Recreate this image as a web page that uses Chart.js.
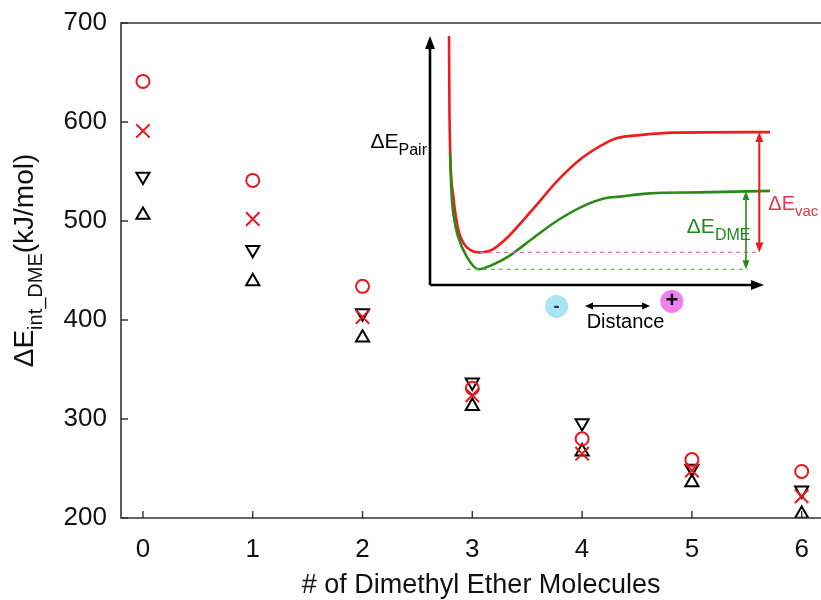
<!DOCTYPE html>
<html>
<head>
<meta charset="utf-8">
<script src="https://cdn.jsdelivr.net/npm/chart.js@4/dist/chart.umd.min.js"></script>
<style>
  html, body { margin: 0; padding: 0; overflow: hidden; background: #fff; }
  #wrap { position: relative; width: 821px; height: 600px; }
  #wrap canvas { position: absolute; left: 0; top: 0; }
  #inset { pointer-events: none; }
</style>
</head>
<body>
<div id="wrap">
  <canvas id="main" width="821" height="600"></canvas>
  <canvas id="inset" width="821" height="600"></canvas>
</div>
<script>
// Interaction energy vs number of dimethyl ether molecules (kJ/mol)
const etherCounts = [0, 1, 2, 3, 4, 5, 6];
const energyCircle = [641, 541, 434, 331, 280, 259, 247];
const energyCross  = [591, 502, 403, 324, 265, 248, 222];
const energyDown   = [545, 471, 407, 337, 296, 250, 228];
const energyUp     = [506, 439, 382, 313, 267, 236, 204];
const yTickValues  = [200, 300, 400, 500, 600, 700];

// Schematic ion-pair energy curves (arbitrary units)
const distVac   = [0.57, 0.58, 0.60, 0.70, 0.85, 1.02, 1.20, 1.45, 1.85, 2.34, 3.14, 3.84, 4.54, 5.24, 5.60, 6.29, 7.28, 10.18];
const energyVac = [10.0, 7.43, 5.55, 3.55, 2.21, 1.65, 1.41, 1.31, 1.41, 1.94, 3.14, 4.22, 5.09, 5.69, 5.90, 6.02, 6.12, 6.14];
const distDme   = [0.60, 0.65, 0.73, 0.84, 1.10, 1.45, 1.85, 2.34, 3.14, 3.84, 4.54, 5.24, 5.69, 6.59, 8.08, 10.18];
const energyDme = [5.30, 3.55, 2.61, 1.94, 1.14, 0.63, 0.80, 1.14, 1.94, 2.61, 3.14, 3.48, 3.55, 3.68, 3.72, 3.78];
const dashSpanVac = [1.50, 9.82];
const dashSpanDme = [1.10, 9.52];
const arrowXVac = 9.86;
const arrowXDme = 9.46;

const FONT = "'Liberation Sans', Arial, Helvetica, sans-serif";
const RED = '#e8191e';
const INK = '#111111';

function toPoints(xs, ys) { return xs.map((x, i) => ({ x: x, y: ys[i] })); }

function markerSet(values, style, radius, color, rotation) {
  return {
    data: toPoints(etherCounts, values),
    showLine: false,
    pointStyle: style,
    pointRadius: radius,
    pointHoverRadius: radius,
    pointRotation: rotation || 0,
    pointBorderColor: color,
    pointBackgroundColor: 'rgba(0,0,0,0)',
    pointBorderWidth: 2,
    pointHoverBorderWidth: 2
  };
}

function noScalePadding(s) {
  s.paddingTop = 0; s.paddingBottom = 0; s.paddingLeft = 0; s.paddingRight = 0;
}

// open frame (left, top, bottom) with inward tick marks
const framePlugin = {
  id: 'frame',
  afterDatasetsDraw(chart) {
    const { ctx, chartArea: a, scales: { x, y } } = chart;
    ctx.save();
    ctx.strokeStyle = '#333';
    ctx.lineWidth = 1.6;
    ctx.beginPath();
    ctx.moveTo(a.right + 2, a.top); ctx.lineTo(a.left, a.top);
    ctx.lineTo(a.left, a.bottom); ctx.lineTo(a.right + 2, a.bottom);
    ctx.stroke();
    ctx.lineWidth = 1.4;
    ctx.beginPath();
    etherCounts.forEach(v => {
      const px = x.getPixelForValue(v);
      ctx.moveTo(px, a.bottom); ctx.lineTo(px, a.bottom - 7);
    });
    yTickValues.forEach(v => {
      const py = y.getPixelForValue(v);
      ctx.moveTo(a.left, py); ctx.lineTo(a.left + 7, py);
    });
    ctx.stroke();
    ctx.restore();
  }
};

// axis titles (y title carries a subscript)
const titlesPlugin = {
  id: 'axisTitles',
  afterDraw(chart) {
    const { ctx, chartArea: a, scales: { x } } = chart;
    ctx.save();
    ctx.fillStyle = INK;
    ctx.textBaseline = 'alphabetic';
    ctx.textAlign = 'center';
    ctx.font = '27px ' + FONT;
    ctx.fillText('# of Dimethyl Ether Molecules', x.getPixelForValue(3.08), 593);

    const parts = [
      { t: '\u0394E', size: 28, dy: 0 },
      { t: 'int_DME', size: 20, dy: 9 },
      { t: '(kJ/mol)', size: 28, dy: 0 }
    ];
    let total = 0;
    parts.forEach(p => { ctx.font = p.size + 'px ' + FONT; p.w = ctx.measureText(p.t).width; total += p.w; });
    ctx.translate(33, (a.top + a.bottom) / 2 - 10);
    ctx.rotate(-Math.PI / 2);
    ctx.textAlign = 'left';
    let cx = -total / 2;
    parts.forEach(p => {
      ctx.font = p.size + 'px ' + FONT;
      ctx.fillText(p.t, cx, p.dy);
      cx += p.w;
    });
    ctx.restore();
  }
};

new Chart(document.getElementById('main'), {
  type: 'scatter',
  data: {
    datasets: [
      markerSet(energyCircle, 'circle', 6.5, RED),
      markerSet(energyCross, 'crossRot', 9.5, RED),
      markerSet(energyDown, 'triangle', 7.6, '#000', 180),
      markerSet(energyUp, 'triangle', 7.6, '#000', 0)
    ]
  },
  options: {
    responsive: false,
    animation: false,
    devicePixelRatio: 1,
    layout: { autoPadding: false, padding: { top: 23, left: 0, right: 0, bottom: 0 } },
    plugins: { legend: { display: false }, tooltip: { enabled: false } },
    scales: {
      x: {
        type: 'linear', min: -0.2, max: 6.176,
        afterBuildTicks: s => { s.ticks = etherCounts.map(v => ({ value: v })); },
        afterFit: s => { s.height = 82; noScalePadding(s); },
        grid: { display: false, drawTicks: false },
        border: { display: false },
        ticks: { padding: 16, color: INK, font: { family: FONT, size: 26 } }
      },
      y: {
        type: 'linear', min: 200, max: 700,
        afterBuildTicks: s => { s.ticks = yTickValues.map(v => ({ value: v })); },
        afterFit: s => { s.width = 121; noScalePadding(s); },
        grid: { display: false, drawTicks: false },
        border: { display: false },
        ticks: { padding: 14, color: INK, font: { family: FONT, size: 26 } }
      }
    }
  },
  plugins: [framePlugin, titlesPlugin]
});

// ---- inset: schematic energy curves ----
function arrowHead(ctx, tx, ty, dx, dy, len, half) {
  const n = Math.hypot(dx, dy); const ux = dx / n, uy = dy / n;
  ctx.beginPath();
  ctx.moveTo(tx, ty);
  ctx.lineTo(tx - ux * len - uy * half, ty - uy * len + ux * half);
  ctx.lineTo(tx - ux * len + uy * half, ty - uy * len - ux * half);
  ctx.closePath();
  ctx.fill();
}

function doubleArrow(ctx, x1, y1, x2, y2, color, lw, len, half) {
  ctx.strokeStyle = color; ctx.fillStyle = color; ctx.lineWidth = lw;
  const n = Math.hypot(x2 - x1, y2 - y1); const ux = (x2 - x1) / n, uy = (y2 - y1) / n;
  ctx.beginPath();
  ctx.moveTo(x1 + ux * len * 0.8, y1 + uy * len * 0.8);
  ctx.lineTo(x2 - ux * len * 0.8, y2 - uy * len * 0.8);
  ctx.stroke();
  arrowHead(ctx, x2, y2, ux, uy, len, half);
  arrowHead(ctx, x1, y1, -ux, -uy, len, half);
}

function subLabel(ctx, x, y, main, sub, color, mainSize, subSize, subDy) {
  ctx.fillStyle = color;
  ctx.textBaseline = 'alphabetic';
  ctx.textAlign = 'left';
  ctx.font = mainSize + 'px ' + FONT;
  ctx.fillText(main, x, y);
  const w = ctx.measureText(main).width;
  ctx.font = subSize + 'px ' + FONT;
  ctx.fillText(sub, x + w, y + subDy);
  return w + ctx.measureText(sub).width;
}

const insetPlugin = {
  id: 'insetDecor',
  afterDatasetsDraw(chart) {
    const { ctx, scales: { x, y } } = chart;
    const X = v => x.getPixelForValue(v), Y = v => y.getPixelForValue(v);
    const vacMin = Math.min(...energyVac), vacTop = energyVac[energyVac.length - 1];
    const dmeMin = Math.min(...energyDme), dmeTop = energyDme[energyDme.length - 1];
    ctx.save();
    // axes
    ctx.strokeStyle = '#000'; ctx.fillStyle = '#000'; ctx.lineWidth = 2.6;
    ctx.beginPath();
    ctx.moveTo(X(0), Y(0)); ctx.lineTo(X(0), Y(10) + 10);
    ctx.moveTo(X(0), Y(0)); ctx.lineTo(X(10) - 10, Y(0));
    ctx.stroke();
    arrowHead(ctx, X(0), Y(10), 0, -1, 13, 5);
    arrowHead(ctx, X(10), Y(0), 1, 0, 13, 5);
    // energy differences
    doubleArrow(ctx, X(arrowXVac), Y(vacTop), X(arrowXVac), Y(vacMin), '#e8191e', 2, 10, 4);
    doubleArrow(ctx, X(arrowXDme), Y(dmeTop), X(arrowXDme), Y(dmeMin), '#2a8a1a', 1.6, 9, 3.5);
    // labels
    ctx.font = '21px ' + FONT;
    const wPairMain = ctx.measureText('\u0394E').width;
    ctx.font = '16px ' + FONT;
    const wPair = wPairMain + ctx.measureText('Pair').width;
    subLabel(ctx, X(0) - 3 - wPair, Y(5.5), '\u0394E', 'Pair', '#000', 21, 16, 7);
    subLabel(ctx, X(arrowXVac) + 9, Y(3.0), '\u0394E', 'vac', '#e8334a', 20, 15, 6);
    subLabel(ctx, X(7.69), Y(2.09), '\u0394E', 'DME', '#1f8a1f', 21, 16, 7);
    // ion charges and distance
    ctx.fillStyle = '#a8e6f3';
    ctx.beginPath(); ctx.arc(X(3.79), Y(-0.86), 11.5, 0, Math.PI * 2); ctx.fill();
    ctx.fillStyle = '#ee80ee';
    ctx.beginPath(); ctx.arc(X(7.24), Y(-0.66), 11.5, 0, Math.PI * 2); ctx.fill();
    ctx.textAlign = 'center'; ctx.textBaseline = 'middle';
    ctx.fillStyle = '#333'; ctx.font = 'bold 18px ' + FONT;
    ctx.fillText('-', X(3.79), Y(-0.86) + 1);
    ctx.fillStyle = '#111'; ctx.font = 'bold 22px ' + FONT;
    ctx.fillText('+', X(7.24), Y(-0.66));
    doubleArrow(ctx, X(4.64), Y(-0.84), X(6.59), Y(-0.84), '#000', 1.6, 8, 3.5);
    ctx.fillStyle = '#000'; ctx.font = '20px ' + FONT;
    ctx.textAlign = 'left'; ctx.textBaseline = 'alphabetic';
    ctx.fillText('Distance', X(4.69), Y(-1.73));
    ctx.restore();
  }
};

function curve(xs, ys, color, width) {
  return {
    data: toPoints(xs, ys), showLine: true, borderColor: color, borderWidth: width,
    pointRadius: 0, pointHoverRadius: 0, cubicInterpolationMode: 'monotone', clip: false, fill: false
  };
}
function dashLine(span, level, color) {
  return {
    data: [{ x: span[0], y: level }, { x: span[1], y: level }], showLine: true,
    borderColor: color, borderWidth: 1.3, borderDash: [4, 4], pointRadius: 0, pointHoverRadius: 0, clip: false
  };
}

new Chart(document.getElementById('inset'), {
  type: 'scatter',
  data: {
    datasets: [
      dashLine(dashSpanVac, Math.min(...energyVac), '#e070c0'),
      dashLine(dashSpanDme, Math.min(...energyDme), '#6cb86c'),
      curve(distDme, energyDme, '#2b8a14', 2.6),
      curve(distVac, energyVac, '#ee1c1c', 2.6)
    ]
  },
  options: {
    responsive: false,
    animation: false,
    devicePixelRatio: 1,
    events: [],
    layout: { autoPadding: false, padding: { left: 430, right: 57, top: 36, bottom: 315 } },
    plugins: { legend: { display: false }, tooltip: { enabled: false } },
    scales: {
      x: { type: 'linear', min: 0, max: 10, display: false },
      y: { type: 'linear', min: 0, max: 10, display: false }
    }
  },
  plugins: [insetPlugin]
});
</script>
</body>
</html>
